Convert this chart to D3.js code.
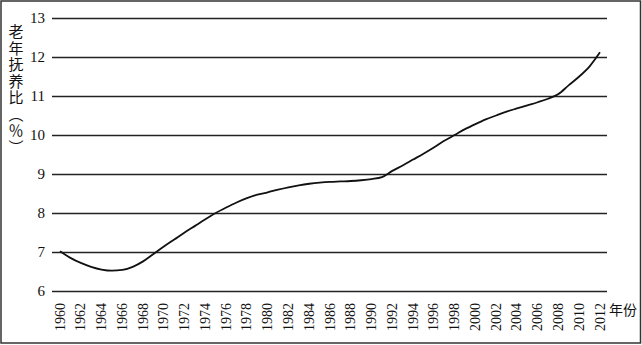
<!DOCTYPE html>
<html>
<head>
<meta charset="utf-8">
<script src="https://cdn.jsdelivr.net/npm/d3@7"></script>
<style>
  body { margin: 0; background: #fff; }
  svg { display: block; }
  .num { font-family: "Liberation Serif", "Times New Roman", "DejaVu Serif", serif; fill: #111; }
  .cjk { font-family: "Noto Sans CJK SC", sans-serif; fill: #111; }
</style>
</head>
<body>
<div id="chart"></div>
<script>
// data
var years = d3.range(1960, 2013);
var ratio = [
  7.02, 6.85, 6.72, 6.62, 6.55, 6.52, 6.54, 6.62, 6.76, 6.95,
  7.14, 7.32, 7.5, 7.67, 7.84, 8.0, 8.14, 8.27, 8.38, 8.47,
  8.53, 8.6, 8.66, 8.71, 8.75, 8.78, 8.8, 8.81, 8.82, 8.84,
  8.87, 8.92, 9.08, 9.22, 9.37, 9.52, 9.68, 9.85, 10.0, 10.15,
  10.28, 10.4, 10.5, 10.6, 10.68, 10.76, 10.84, 10.93, 11.05, 11.28,
  11.5, 11.76, 12.12
];
var yTicks = [6, 7, 8, 9, 10, 11, 12, 13];
var xTicks = d3.range(1960, 2013, 2);
var yTitle = "老年抚养比（％）";
var xTitle = "年份";

var W = 642, H = 345;

var svg = d3.select("#chart").append("svg")
    .attr("width", W).attr("height", H);

// frame
svg.append("rect")
    .attr("x", 1).attr("y", 1)
    .attr("width", W - 2.5).attr("height", H - 3)
    .attr("fill", "none").attr("stroke", "#333").attr("stroke-width", 1.5);

var x = d3.scaleLinear().domain([1960, 2012]).range([60, 600]);
var y = d3.scaleLinear().domain([6, 13]).range([291, 18]);

// gridlines + y labels
var yAxis = d3.axisLeft(y).tickValues(yTicks).tickFormat(d3.format("d"))
    .tickSize(-555).tickPadding(7);
var gy = svg.append("g").attr("transform", "translate(52,0)").call(yAxis)
    .attr("font-family", null).attr("font-size", null);
gy.select(".domain").remove();
gy.selectAll(".tick line").attr("stroke", "#222").attr("stroke-width", 1.3);
gy.selectAll(".tick text")
    .attr("class", "num").attr("fill", null)
    .style("font-size", "15px");

// x labels, rotated
svg.append("g").selectAll("text")
    .data(xTicks)
  .enter().append("text")
    .attr("class", "num")
    .attr("transform", function(d) { return "translate(" + (x(d) + 4.5) + ",303) rotate(-90)"; })
    .attr("text-anchor", "end")
    .style("font-size", "14px")
    .text(function(d) { return d; });

svg.append("text")
    .attr("class", "cjk")
    .attr("x", 609).attr("y", 315)
    .style("font-size", "14px")
    .text(xTitle);

// vertical y title
svg.append("text")
    .attr("class", "cjk")
    .attr("x", 16).attr("y", 24)
    .style("writing-mode", "vertical-rl")
    .style("font-size", "15px")
    .style("letter-spacing", "1.5px")
    .text(yTitle);

// the line
var line = d3.line()
    .x(function(d, i) { return x(years[i]); })
    .y(function(d) { return y(d); })
    .curve(d3.curveMonotoneX);

svg.append("path")
    .datum(ratio)
    .attr("d", line)
    .attr("fill", "none")
    .attr("stroke", "#111")
    .attr("stroke-width", 1.8);
</script>
</body>
</html>
